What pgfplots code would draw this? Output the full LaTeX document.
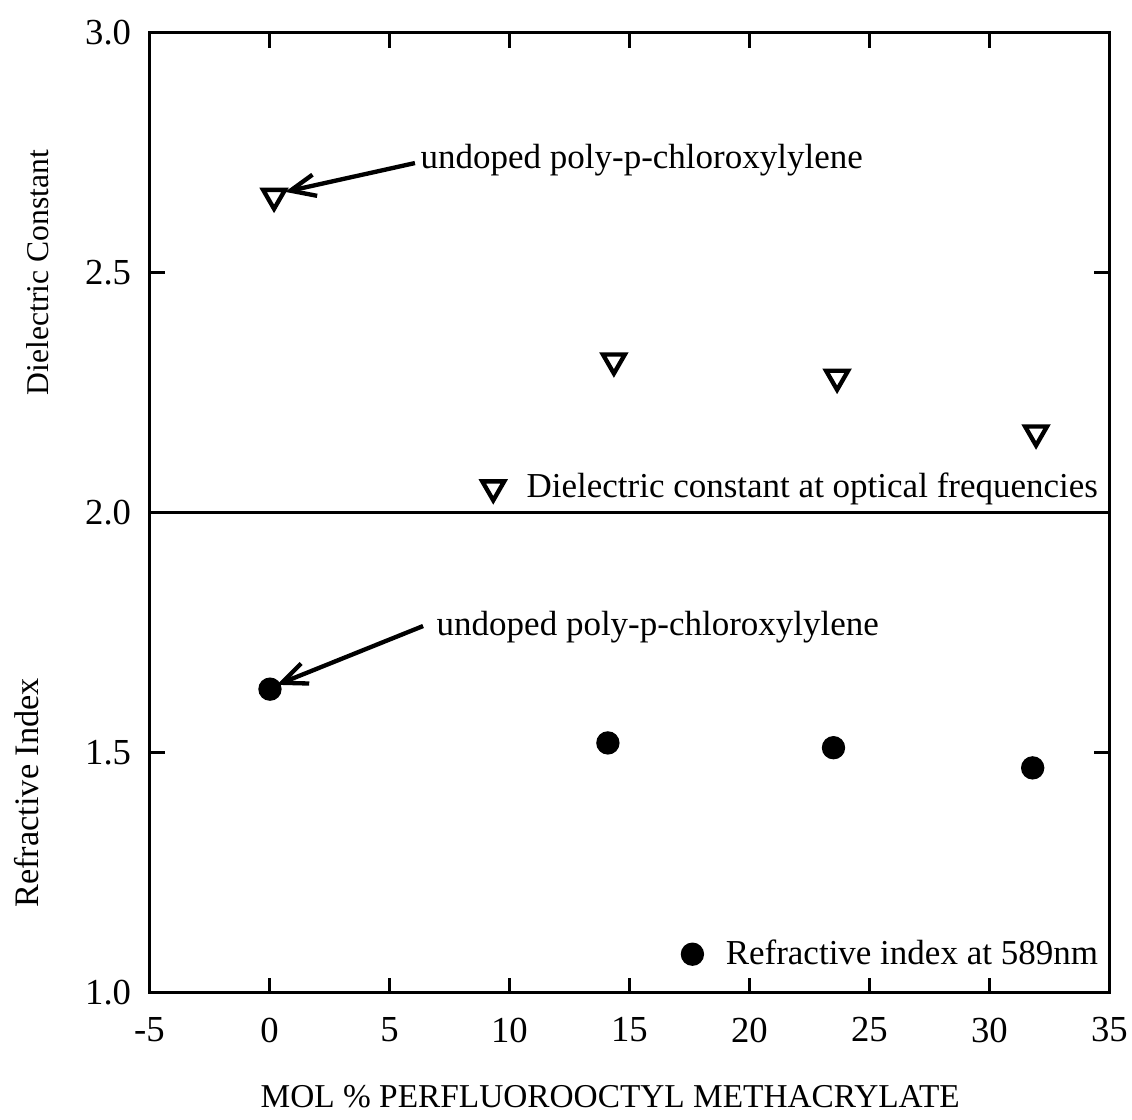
\documentclass[border=0pt]{standalone}
\usepackage{fontspec}
\setmainfont{Liberation Serif}
\usepackage{pgfplots}
\pgfplotsset{compat=1.18}
\usetikzlibrary{arrows.meta}

\begin{document}
\begin{tikzpicture}
\pgfplotsset{
  every axis/.append style={
    scale only axis, width=288pt, height=144pt,
    xmin=-5, xmax=35,
    axis line style={line width=1pt},
    tick style={line width=1pt, black},
    major tick length=4.5pt,
    tick align=inside,
    xtick={-5,0,5,10,15,20,25,30,35},
    ticklabel style={font=\fontsize{11}{13}\selectfont},
    yticklabel style={xshift=-2pt},
    /pgf/number format/assume math mode=true,
    legend cell align=left,
    clip=false,
  },
  mylegimg/.style={legend image code/.code={%
    \draw[##1] plot coordinates {(0pt,0pt)};
    \path[draw=none, fill=none] (-4pt,0pt) rectangle (8pt,0.1pt);}},
}
% Top panel: dielectric constant
\begin{axis}[name=top, at={(0pt,144pt)}, anchor=south west,
  ymin=2, ymax=3, ytick={2,2.5,3}, yticklabels={2.0,2.5,3.0},
  xtick pos=upper, xticklabels={},
  ylabel={Dielectric Constant},
  ylabel style={at={(axis description cs:-0.1163,0.5)}, anchor=center, font=\fontsize{9.5}{11}\selectfont},
  legend style={draw=none, fill=none, at={(rel axis cs:1,0)}, anchor=south east,
    xshift=1.75pt, yshift=-1.2pt, font=\fontsize{10.5}{12}\selectfont},
]
\addplot[only marks, mark=triangle, mark size=3.8pt, mylegimg,
  mark options={rotate=180, line width=1.3pt, fill=white, draw=black}]
  coordinates {(0.19,2.659) (14.35,2.316) (23.65,2.282) (31.94,2.166)};
\addlegendentry{Dielectric constant at optical frequencies}
\draw[line width=1.3pt, -{Straight Barb[length=7.5pt,width=6.5pt]}]
  (axis cs:6.06,2.728) -- (axis cs:0.65,2.668);
\node[anchor=base west, font=\fontsize{10.5}{12}\selectfont, inner sep=0pt]
  at (axis cs:6.27,2.716) {undoped poly-p-chloroxylylene};
\end{axis}

% Bottom panel: refractive index
\begin{axis}[name=bot, at={(0pt,0pt)}, anchor=south west,
  ymin=1, ymax=2, ytick={1,1.5,2}, yticklabels={1.0,1.5,{}},
  xtick pos=lower,
  xticklabels={-5,0,5,10,15,20,25,30,35},
  xticklabel style={yshift=-4pt},
  xlabel={MOL \% PERFLUOROOCTYL METHACRYLATE},
  xlabel style={at={(axis description cs:0.48,0)}, anchor=center, yshift=-31.35pt, font=\fontsize{10}{12}\selectfont},
  ylabel={Refractive Index},
  ylabel style={at={(axis description cs:-0.1285,0.416)}, anchor=center, font=\fontsize{10.3}{12}\selectfont},
  legend style={draw=none, fill=none, at={(rel axis cs:1,0)}, anchor=south east,
    xshift=1.75pt, yshift=2.85pt, font=\fontsize{10.5}{12}\selectfont},
]
\addplot[only marks, mark=*, mark size=3.3pt, mylegimg, mark options={fill=black, draw=black}]
  coordinates {(0.02,1.632) (14.1,1.520) (23.5,1.510) (31.8,1.468)};
\addlegendentry{Refractive index at 589nm}
\draw[line width=1.3pt, -{Straight Barb[length=7.5pt,width=6.5pt]}]
  (axis cs:6.40,1.7635) -- (axis cs:0.31,1.641);
\node[anchor=base west, font=\fontsize{10.5}{12}\selectfont, inner sep=0pt]
  at (axis cs:6.94,1.743) {undoped poly-p-chloroxylylene};
\end{axis}

\pgfresetboundingbox
\useasboundingbox (-44.85pt,-37.95pt) rectangle (294.75pt,297.75pt);
\end{tikzpicture}
\end{document}
